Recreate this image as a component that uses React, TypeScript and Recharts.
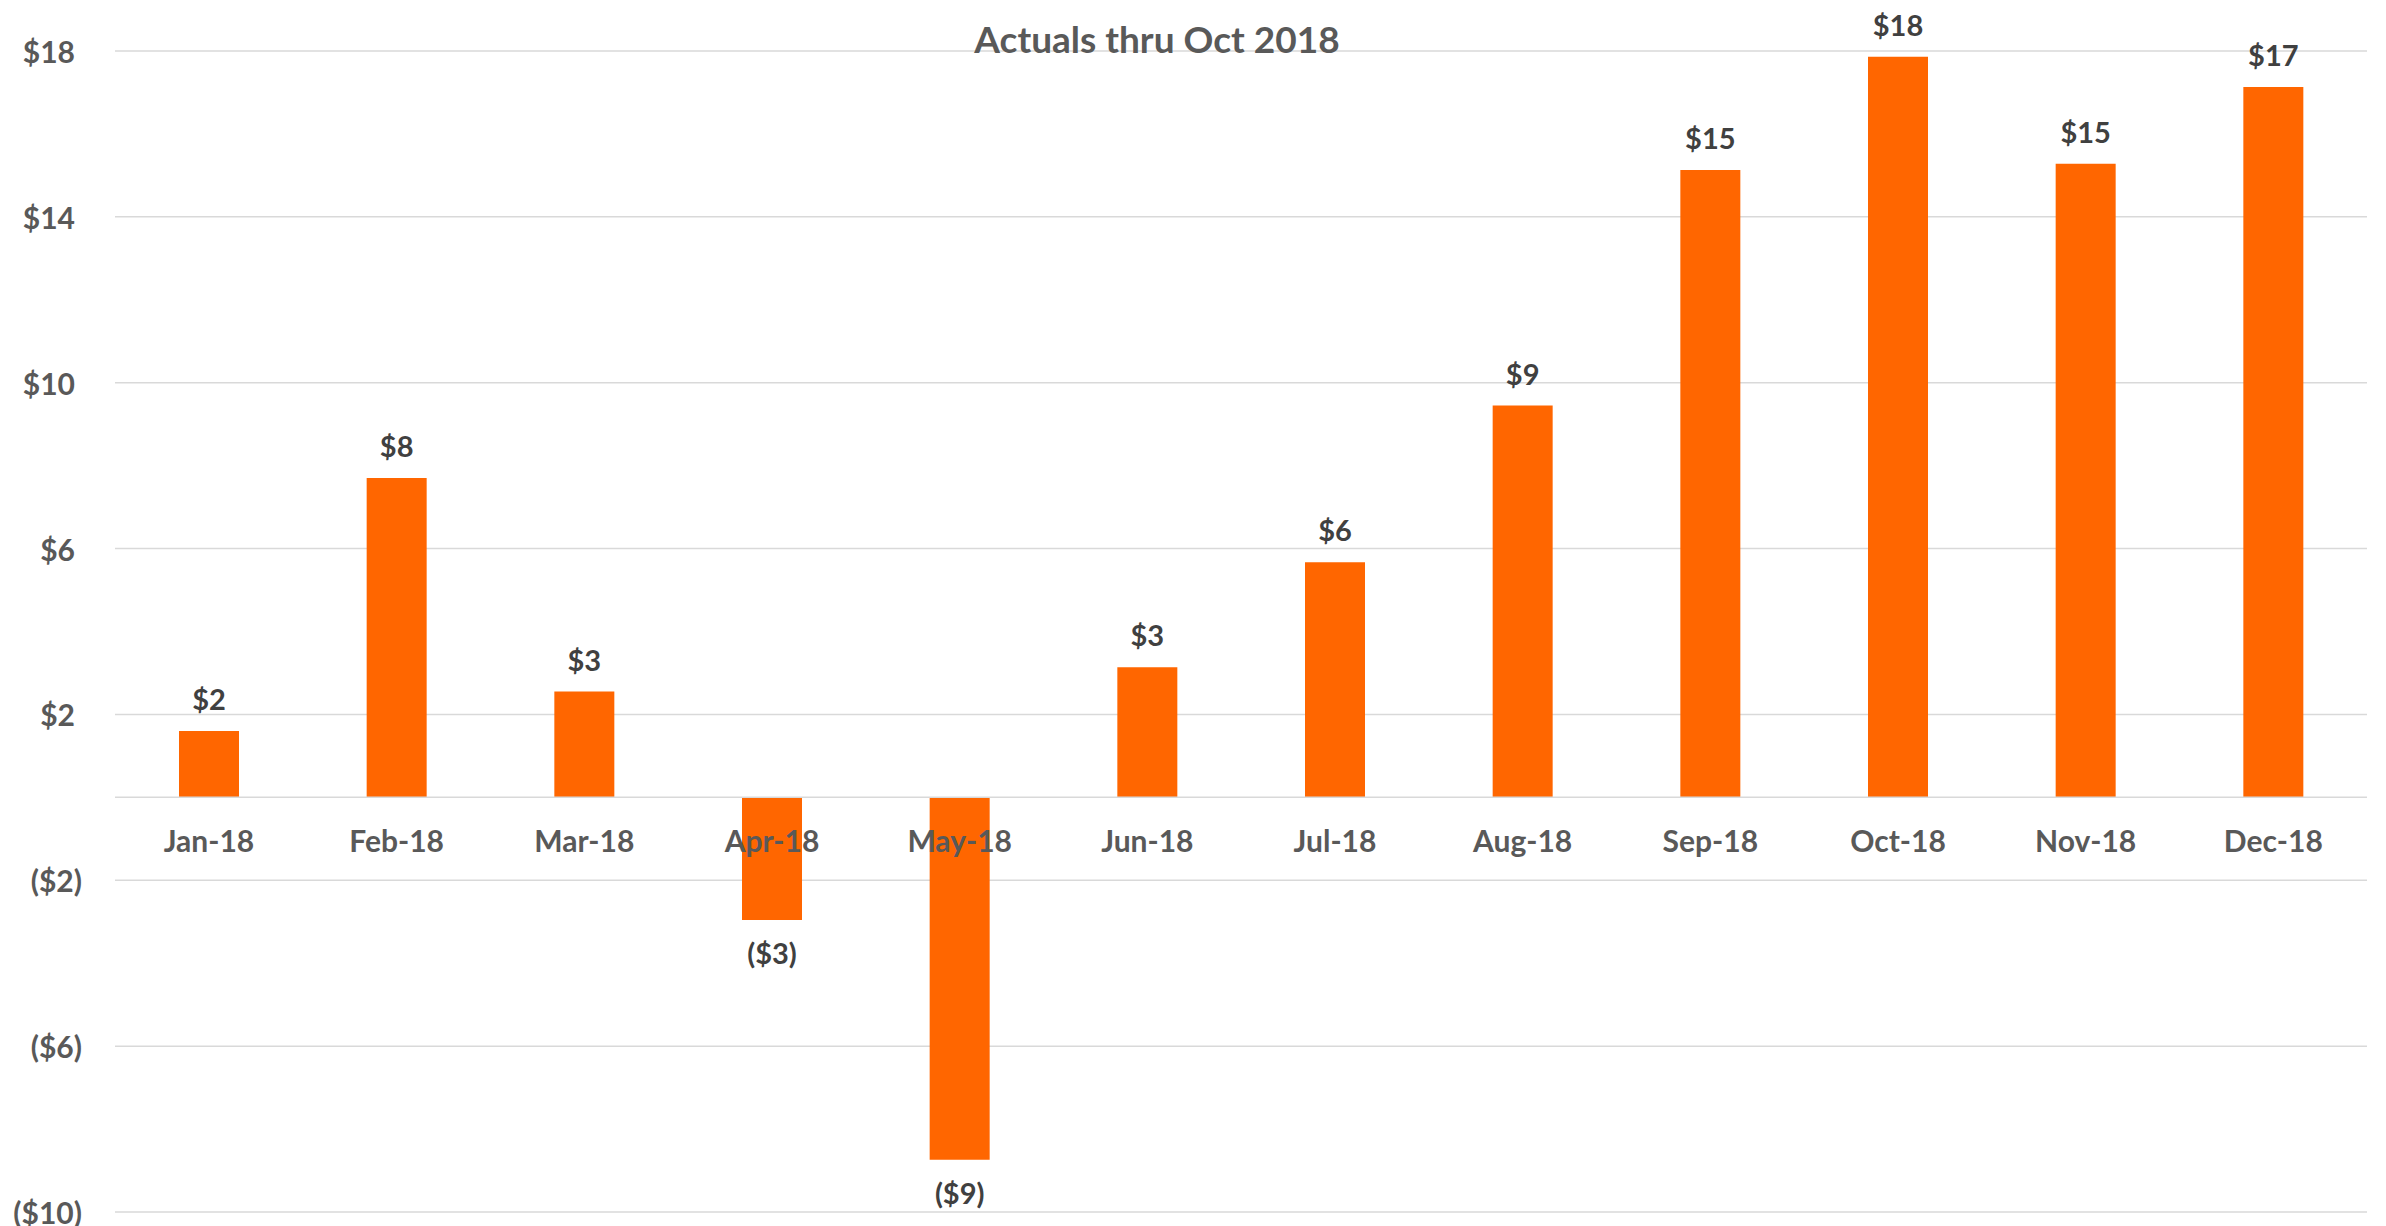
import React from 'react';
import { BarChart, Bar, XAxis, YAxis, CartesianGrid, ReferenceLine, LabelList } from 'recharts';

const months = ['Jan-18', 'Feb-18', 'Mar-18', 'Apr-18', 'May-18', 'Jun-18', 'Jul-18', 'Aug-18', 'Sep-18', 'Oct-18', 'Nov-18', 'Dec-18'];
const actuals = [1.6, 7.7, 2.55, -2.96, -8.74, 3.14, 5.67, 9.45, 15.13, 17.86, 15.28, 17.13];
const yTicks = [-10, -6, -2, 2, 6, 10, 14, 18];
const title = 'Actuals thru Oct 2018';

const data = months.map((m, i) => ({ month: m, value: actuals[i] }));

const FONT = 'Lato, "Open Sans", sans-serif';
const fmt = (v: number) => (v < 0 ? `($${Math.round(Math.abs(v))})` : `$${Math.round(v)}`);

const YTick = (props: any) => {
  const { x, y, payload } = props;
  const v = payload.value as number;
  return (
    <text x={v >= 0 ? x - 7 : x} y={y} textAnchor="end" dominantBaseline="central" fill="#595959" fontFamily={FONT} fontWeight={700} fontSize={30}>
      {fmt(v)}
    </text>
  );
};

const ValueLabel = (props: any) => {
  const { x, y, width, height, value } = props;
  const top = Math.min(y, y + height);
  const bottom = Math.max(y, y + height);
  const cx = x + width / 2;
  const ty = value >= 0 ? top - 21 : bottom + 44;
  return (
    <text x={cx} y={ty} textAnchor="middle" fill="#404040" fontFamily={FONT} fontWeight={700} fontSize={29}>
      {fmt(value)}
    </text>
  );
};

const CatLabel = (props: any) => {
  const { x, y, width, height, value, index } = props;
  const v = actuals[index];
  const zero = v >= 0 ? Math.max(y, y + height) : Math.min(y, y + height);
  return (
    <text x={x + width / 2} y={zero + 55} textAnchor="middle" fill="#595959" fontFamily={FONT} fontWeight={700} fontSize={30}>
      {value}
    </text>
  );
};

export default function App() {
  return (
    <div style={{ position: 'absolute', left: 0, top: 0, width: 2386, height: 1226, background: '#fff' }}>
      <BarChart width={2386} height={1226} data={data} margin={{ top: 51, right: 19, bottom: 14, left: 0 }} barSize={60}>
        <CartesianGrid horizontal vertical={false} stroke="#d9d9d9" strokeWidth={1.5} />
        <XAxis dataKey="month" hide />
        <YAxis
          domain={[-10, 18]}
          ticks={yTicks}
          interval={0}
          width={115}
          axisLine={false}
          tickLine={false}
          tickSize={0}
          tickMargin={33}
          tick={<YTick />}
        />
        <ReferenceLine y={0} stroke="#d9d9d9" strokeWidth={1.5} />
        <Bar dataKey="value" fill="#FF6600" isAnimationActive={false}>
          <LabelList dataKey="value" content={<ValueLabel />} />
          <LabelList dataKey="month" content={<CatLabel />} />
        </Bar>
      </BarChart>
      <div
        style={{
          position: 'absolute',
          left: 1157,
          top: 57,
          transform: 'translate(-50%, -100%)',
          fontFamily: FONT,
          fontWeight: 700,
          fontSize: 37,
          color: '#595959',
          whiteSpace: 'nowrap',
          lineHeight: 1,
        }}
      >
        {title}
      </div>
    </div>
  );
}
